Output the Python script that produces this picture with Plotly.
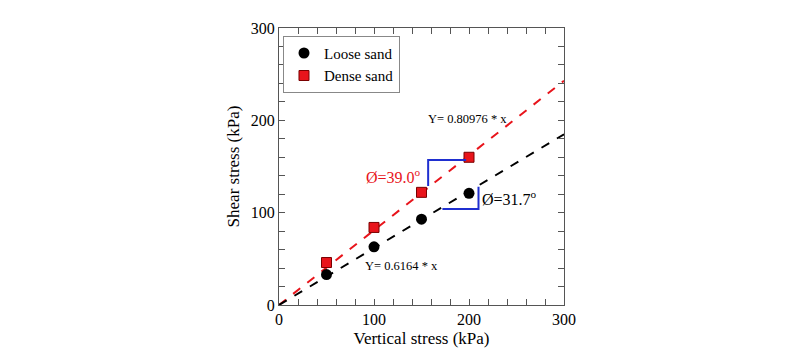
import plotly.graph_objects as go

x_vals = [50, 100, 150, 200]
loose = [33, 63, 93, 121]
dense = [46, 84, 122, 160]
fit_x = [0, 300]
loose_slope = 0.6164
dense_slope = 0.80976

FONT = "Liberation Serif"

fig = go.Figure()
fig.add_trace(go.Scatter(x=fit_x, y=[s * dense_slope for s in fit_x], mode="lines",
                         line=dict(color="#e8141b", dash="dash", width=2), showlegend=False))
fig.add_trace(go.Scatter(x=fit_x, y=[s * loose_slope for s in fit_x], mode="lines",
                         line=dict(color="black", dash="dash", width=2), showlegend=False))
fig.add_trace(go.Scatter(x=x_vals, y=loose, mode="markers", name="Loose sand",
                         marker=dict(symbol="circle", size=11, color="black")))
fig.add_trace(go.Scatter(x=x_vals, y=dense, mode="markers", name="Dense sand",
                         marker=dict(symbol="square", size=10, color="#e8141b",
                                     line=dict(color="#7a0000", width=1))))
# slope brackets
fig.add_trace(go.Scatter(x=[157, 157, 197], y=[129, 157, 157], mode="lines",
                         line=dict(color="#1f2fd0", width=2), showlegend=False))
fig.add_trace(go.Scatter(x=[172, 210, 210], y=[104, 104, 128], mode="lines",
                         line=dict(color="#1f2fd0", width=2), showlegend=False))

ann = [
    (198, 201, "Y= 0.80976 * x", "black", 12.5),
    (129, 42, "Y= 0.6164 * x", "black", 12.5),
    (120, 140, "Ø=39.0<sup>o</sup>", "#e8141b", 16),
    (243, 116, "Ø=31.7<sup>o</sup>", "black", 16),
]
for ax_, ay_, t, c, s in ann:
    fig.add_annotation(x=ax_, y=ay_, text=t, showarrow=False,
                       font=dict(family=FONT, size=s, color=c))

axis_common = dict(range=[0, 300], dtick=100, ticks="inside", ticklen=6, tickcolor="#555",
                   minor=dict(dtick=20, ticks="inside", ticklen=6, tickcolor="#555"),
                   showline=True, linecolor="#555", linewidth=1, mirror="ticks",
                   showgrid=False, zeroline=False,
                   tickfont=dict(family=FONT, size=16, color="black"))

fig.update_layout(
    width=800, height=361,
    margin=dict(l=271, r=244, t=12, b=64),
    plot_bgcolor="white", paper_bgcolor="white",
    xaxis=dict(title=dict(text="Vertical stress (kPa)", font=dict(family=FONT, size=17, color="black"),
                          standoff=4), **axis_common),
    yaxis=dict(title=dict(text="Shear stress (kPa)", font=dict(family=FONT, size=17, color="black"),
                          standoff=6), **axis_common),
    legend=dict(x=0.014, y=0.972, xanchor="left", yanchor="top", itemwidth=30,
                bordercolor="#888", borderwidth=1, bgcolor="white",
                font=dict(family=FONT, size=15, color="black")),
)

fig.write_html("out.html")
